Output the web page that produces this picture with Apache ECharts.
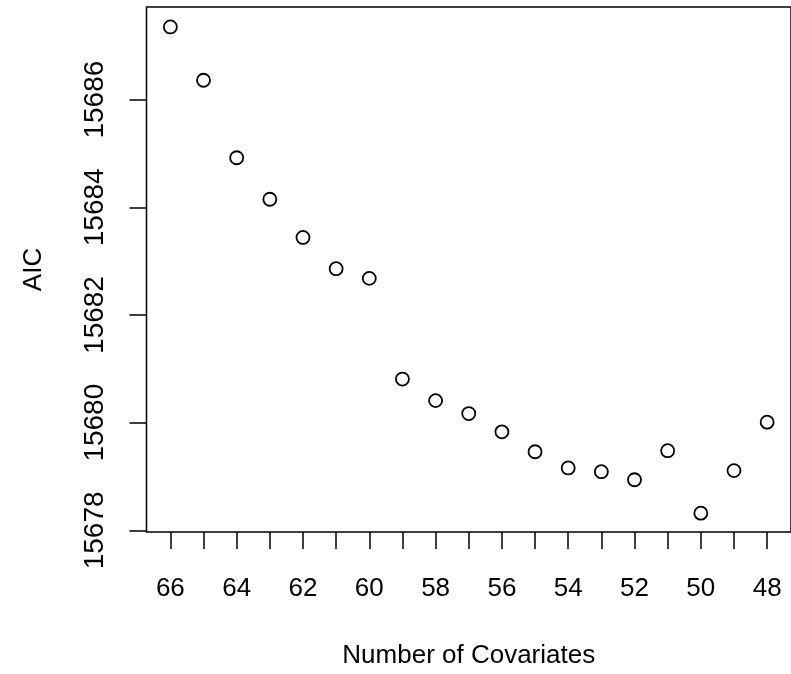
<!DOCTYPE html>
<html>
<head>
<meta charset="utf-8">
<script src="https://cdn.jsdelivr.net/npm/echarts@6/dist/echarts.min.js"></script>
<style>
    html, body { margin: 0; padding: 0; background: #fff; }
    #chart { width: 791px; height: 674px; }
</style>
</head>
<body>
<div id="chart"></div>
<script>
// data
const covariates = [66, 65, 64, 63, 62, 61, 60, 59, 58, 57, 56, 55, 54, 53, 52, 51, 50, 49, 48]
const aic = [
    15687.35, 15686.36, 15684.92, 15684.15, 15683.44, 15682.86, 15682.68, 15680.81, 15680.41, 15680.17,
    15679.83, 15679.46, 15679.16, 15679.09, 15678.94, 15679.48, 15678.32, 15679.11, 15680.01,
]
const xTicks = [48, 49, 50, 51, 52, 53, 54, 55, 56, 57, 58, 59, 60, 61, 62, 63, 64, 65, 66]
const xLabels = [48, 50, 52, 54, 56, 58, 60, 62, 64, 66]
const yTicks = [15678, 15680, 15682, 15684, 15686]

const font = '"Liberation Sans", Arial, Helvetica, sans-serif'
const points = covariates.map((c, i) => [c, aic[i]])

const myChart = echarts.init(document.getElementById('chart'), null, { renderer: 'canvas' })
const option = {
    animation: false,
    backgroundColor: '#fff',
    grid: {
        left: 146.5,
        top: 7,
        width: 650,
        height: 527.5,
        show: true,
        borderColor: '#000',
        borderWidth: 1.5,
        backgroundColor: 'transparent',
    },
    xAxis: {
        type: 'value',
        inverse: true,
        min: 47.28,
        max: 66.72,
        name: 'Number of Covariates',
        nameLocation: 'middle',
        nameGap: 111,
        nameTextStyle: { color: '#000', fontSize: 26, fontFamily: font },
        axisLine: { show: false },
        splitLine: { show: false },
        axisTick: {
            show: true,
            length: 17,
            customValues: xTicks,
            lineStyle: { color: '#000', width: 1.5 },
        },
        axisLabel: {
            customValues: xLabels,
            color: '#000',
            fontSize: 26,
            fontFamily: font,
            margin: 44,
        },
    },
    yAxis: {
        type: 'value',
        min: 15677.97,
        max: 15687.72,
        name: 'AIC',
        nameLocation: 'middle',
        nameGap: 100,
        nameTextStyle: { color: '#000', fontSize: 26, fontFamily: font },
        axisLine: { show: false },
        splitLine: { show: false },
        axisTick: {
            show: true,
            length: 17,
            customValues: yTicks,
            lineStyle: { color: '#000', width: 1.5 },
        },
        axisLabel: {
            customValues: yTicks,
            formatter: (v) => String(v),
            rotate: 90,
            color: '#000',
            fontSize: 28,
            fontFamily: font,
            margin: 37,
        },
    },
    series: [
        {
            type: 'scatter',
            data: points,
            symbol: 'circle',
            symbolSize: 13,
            itemStyle: {
                color: 'transparent',
                borderColor: '#000',
                borderWidth: 1.8,
                opacity: 1,
            },
            emphasis: { disabled: true },
        },
    ],
}
myChart.setOption(option)
</script>
</body>
</html>
